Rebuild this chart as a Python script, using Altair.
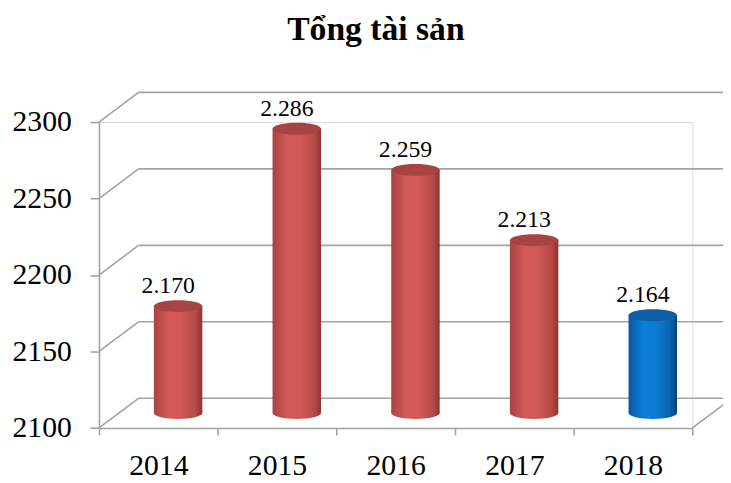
import altair as alt
import pandas as pd

TITLE = "Tổng tài sản"
years = ["2014", "2015", "2016", "2017", "2018"]
values = [2170, 2286, 2259, 2213, 2164]
labels = ["2.170", "2.286", "2.259", "2.213", "2.164"]
highlight = [False, False, False, False, True]
ticks = [2100, 2150, 2200, 2250, 2300]

df = pd.DataFrame({"year": years, "value": values, "label": labels, "hl": highlight})
df["base"] = 2100
tdf = pd.DataFrame({"t": ticks})

W, H = 600, 309.3
DX, DY = 40, -30          # depth of back wall
CX, CY = 20, -15          # cylinder at mid depth
BW = 49                   # cylinder width
GRID = "#a3a3a3"
FONT = "Liberation Serif"

xaxis = alt.Axis(title=None, labelAngle=0, labelFont=FONT, labelFontSize=30,
                 labelColor="black", labelPadding=16, tickSize=7, tickBand="extent",
                 domainColor=GRID, tickColor=GRID, domainWidth=1.6, tickWidth=1.6)
yaxis = alt.Axis(title=None, values=ticks, format="d", grid=False, labelFont=FONT,
                 labelFontSize=30, labelColor="black", labelPadding=19, tickSize=9,
                 domainColor=GRID, tickColor=GRID, domainWidth=1.6, tickWidth=1.6)
xsc = alt.Scale(domain=years, paddingInner=0, paddingOuter=0)
ysc = alt.Scale(domain=[2100, 2300], nice=False, zero=False)

def X():
    return alt.X("year:N", sort=years, scale=xsc, axis=xaxis)

def Y(field):
    return alt.Y(f"{field}:Q", scale=ysc, axis=yaxis)

# back wall grid lines
back = alt.Chart(tdf).mark_rule(color=GRID, strokeWidth=1.6, yOffset=DY, y2Offset=DY).encode(
    x=alt.value(DX), x2=alt.value(W + DX + 40), y=Y("t"), y2="t:Q")
diag = alt.Chart(tdf).mark_rule(color=GRID, strokeWidth=1.6, y2Offset=DY).encode(
    x=alt.value(0), x2=alt.value(DX), y=Y("t"), y2="t:Q")
floor_r = alt.Chart(tdf).transform_filter("datum.t == 2100").mark_rule(
    color=GRID, strokeWidth=1.6, y2Offset=DY).encode(
    x=alt.value(W), x2=alt.value(W + DX), y=Y("t"), y2="t:Q")

def grad(c1, c2, c3, c4):
    return alt.Gradient(gradient="linear", x1=0, y1=0, x2=1, y2=0, stops=[
        alt.GradientStop(offset=0, color=c1),
        alt.GradientStop(offset=0.3, color=c2),
        alt.GradientStop(offset=0.55, color=c2),
        alt.GradientStop(offset=0.85, color=c3),
        alt.GradientStop(offset=1, color=c4)])

RED = grad("#a94343", "#d25957", "#b74b49", "#8e3433")
BLUE = grad("#0a55a0", "#0b7dd6", "#0a65b0", "#04427c")

ELL = "M-1,0A1,0.245,0,1,0,1,0A1,0.245,0,1,0,-1,0Z"

base = alt.Chart(df)
layers = [back, diag, floor_r]
for flag, g, top in [(False, RED, "#a54443"), (True, BLUE, "#0e5ea6")]:
    sub = base.transform_filter(f"datum.hl == {str(flag).lower()}")
    bottom = sub.mark_point(shape=ELL, size=BW * BW, filled=True, fill=g, opacity=1,
                            strokeWidth=0, xOffset=CX, yOffset=CY).encode(x=X(), y=Y("base"))
    body = sub.mark_bar(size=BW, fill=g, xOffset=CX, yOffset=CY, y2Offset=CY).encode(
        x=X(), y=Y("value"), y2="base:Q")
    cap = sub.mark_point(shape=ELL, size=BW * BW, filled=True, fill=top, opacity=1,
                         strokeWidth=0, xOffset=CX, yOffset=CY).encode(x=X(), y=Y("value"))
    layers += [bottom, body, cap]

text = base.mark_text(font=FONT, fontSize=24, color="black", baseline="alphabetic",
                      xOffset=10, yOffset=-28).encode(x=X(), y=Y("value"), text="label:N")
title = alt.Chart(pd.DataFrame({"t": [TITLE]})).mark_text(
    font=FONT, fontSize=34, fontWeight="bold", color="black", baseline="alphabetic").encode(
    x=alt.value(280), y=alt.value(-83), text="t:N")
layers += [text, title]

chart = alt.layer(*layers).properties(
    width=W, height=H,
    autosize=alt.AutoSizeParams(type="none"),
    padding={"left": 92, "top": 112.7, "right": 31, "bottom": 53},
).configure_view(stroke=None).configure(background="white")

chart.save("out.html", embed_options={"renderer": "svg", "actions": False})
